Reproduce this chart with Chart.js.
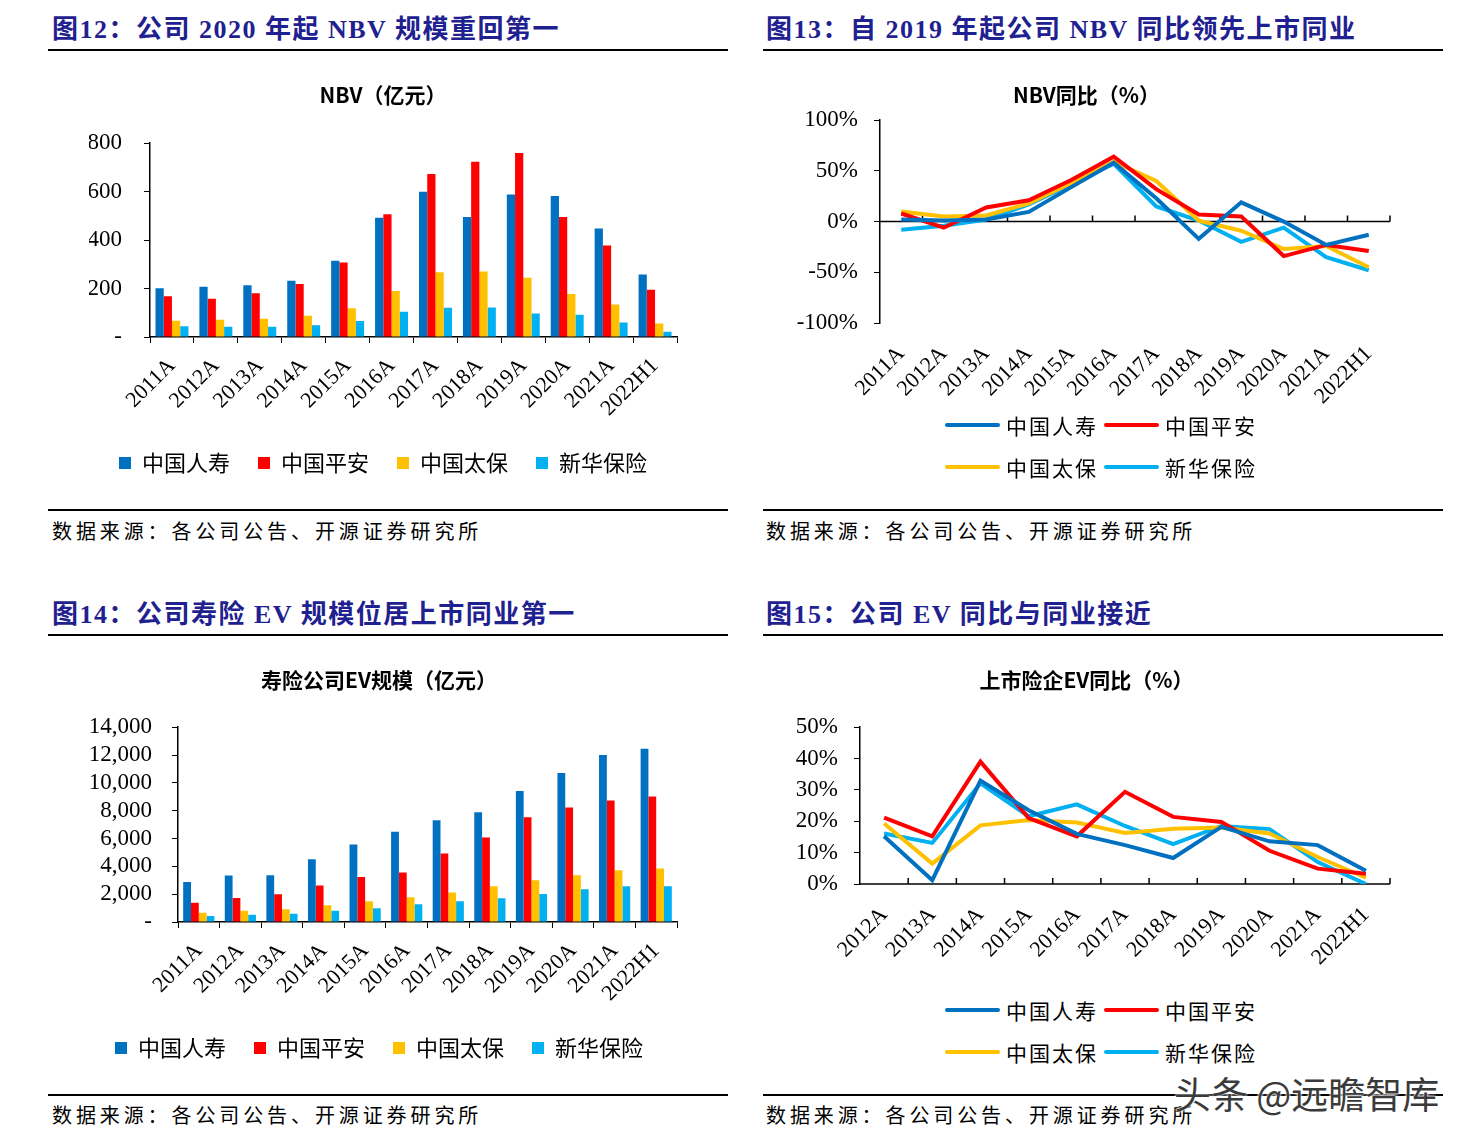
<!DOCTYPE html>
<html>
<head>
<meta charset="utf-8">
<script src="https://cdn.jsdelivr.net/npm/chart.js@4.4.0/dist/chart.umd.min.js"></script>
<style>
body{margin:0;background:#fff;width:1475px;height:1141px;position:relative;overflow:hidden;font-family:"Noto Sans CJK SC",sans-serif;color:#000}
.head{position:absolute;font-family:"Liberation Serif","Noto Sans CJK SC",serif;font-weight:bold;font-size:26px;color:#1f2190;letter-spacing:1.5px;line-height:30px;white-space:nowrap}
.rule{position:absolute;height:2px;background:#000;width:680px}
.src{position:absolute;font-size:20px;letter-spacing:3.9px;line-height:24px;white-space:nowrap}
.box{position:absolute}
.lg{position:absolute;font-size:21px;letter-spacing:2px;line-height:26px;white-space:nowrap}
.lg .row{display:flex;height:42px;align-items:center}
.lg .it{display:flex;align-items:center;width:159px}
.lg .ln{display:inline-block;width:55px;height:4px;border-radius:2px;margin-right:6px}
.wm{position:absolute;left:1174px;top:1066px;font-size:37px;color:#3a3a3a;white-space:nowrap;text-shadow:0 0 3px #fff,0 0 3px #fff}
</style>
</head>
<body>

<div class="head" style="left:52px;top:15px">图12：公司 2020 年起 NBV 规模重回第一</div>
<div class="rule" style="left:48px;top:49px"></div>
<div class="box" style="left:48px;top:64px;width:680px;height:432px"><canvas id="nbv"></canvas></div>
<div class="rule" style="left:48px;top:509px"></div>
<div class="src" style="left:52px;top:519px">数据来源：各公司公告、开源证券研究所</div>

<div class="head" style="left:766px;top:15px">图13：自 2019 年起公司 NBV 同比领先上市同业</div>
<div class="rule" style="left:763px;top:49px"></div>
<div class="box" style="left:763px;top:64px;width:680px;height:349px"><canvas id="nbvYoy"></canvas></div>
<div class="lg" id="lg1" style="left:945px;top:404px"></div>
<div class="rule" style="left:763px;top:509px"></div>
<div class="src" style="left:766px;top:519px">数据来源：各公司公告、开源证券研究所</div>

<div class="head" style="left:52px;top:600px">图14：公司寿险 EV 规模位居上市同业第一</div>
<div class="rule" style="left:48px;top:634px"></div>
<div class="box" style="left:48px;top:650px;width:680px;height:432px"><canvas id="ev"></canvas></div>
<div class="rule" style="left:48px;top:1094px"></div>
<div class="src" style="left:52px;top:1103px">数据来源：各公司公告、开源证券研究所</div>

<div class="head" style="left:766px;top:600px">图15：公司 EV 同比与同业接近</div>
<div class="rule" style="left:763px;top:634px"></div>
<div class="box" style="left:763px;top:650px;width:680px;height:324px"><canvas id="evYoy"></canvas></div>
<div class="lg" id="lg2" style="left:945px;top:989px"></div>
<div class="rule" style="left:763px;top:1094px"></div>
<div class="src" style="left:766px;top:1103px">数据来源：各公司公告、开源证券研究所</div>

<div class="wm">头条 @远瞻智库</div>

<script>
const years = ['2011A','2012A','2013A','2014A','2015A','2016A','2017A','2018A','2019A','2020A','2021A','2022H1'];
const yoyYears = ['2012A','2013A','2014A','2015A','2016A','2017A','2018A','2019A','2020A','2021A','2022H1'];
const companies = ['中国人寿','中国平安','中国太保','新华保险'];
const colors = ['#0070C0','#FF0000','#FFC000','#00B0F0'];

// NBV (亿元)
const nbvLife   = [201,207,214,232,315,492,600,495,588,582,448,258];
const nbvPingan = [168,158,181,219,308,507,673,723,760,495,378,195];
const nbvCpic   = [67,71,75,88,119,190,267,270,245,178,134,56];
const nbvNci    = [44,42,42,49,66,104,121,122,97,92,60,22];

// NBV 同比 (%)
const nbvYoyLife   = [2,1,2,9.5,34,58,23,-17,19,0,-23,-13];
const nbvYoyPingan = [8,-6,14,21,41,64,32,7,5,-34,-23,-29];
const nbvYoyCpic   = [10,5,6,18,38,59,40,1,-9,-27,-24,-45];
const nbvYoyNci    = [-8,-4,2,17,37,57,15,1,-20,-6,-35,-48];

// 寿险 EV (亿元)
const evLife   = [2880,3336,3360,4512,5568,6480,7320,7896,9408,10704,12000,12456];
const evPingan = [1392,1728,1992,2616,3240,3552,4920,6072,7536,8232,8736,9024];
const evCpic   = [672,816,912,1200,1488,1776,2112,2568,3000,3360,3720,3840];
const evNci    = [432,528,600,816,984,1272,1488,1704,2016,2352,2568,2568];

// EV 同比 (%)
const evYoyLife   = [15.2,1.2,33,23.5,16,12.4,8.3,18.2,13.6,12.4,4.2];
const evYoyPingan = [21.2,15.2,39,21,15.2,29.4,21.4,19.8,10.6,4.9,3.3];
const evYoyCpic   = [19.3,6.5,18.7,20.4,19.6,16.3,17.6,18,16.1,8.6,2];
const evYoyNci    = [16.1,13.1,32.1,21.6,25.4,18.5,12.7,18.5,17.5,7,0];

const serif = 'Liberation Serif';
const cjk = 'Noto Sans CJK SC';

// zero line with small upward ticks between categories (line charts)
const zeroAxis = {
  id: 'zeroAxis',
  beforeDatasetsDraw(chart) {
    const {ctx, chartArea, scales} = chart;
    const y0 = scales.y.getPixelForValue(0);
    const n = scales.x.ticks.length;
    ctx.save();
    ctx.strokeStyle = '#000';
    ctx.lineWidth = 1.5;
    ctx.beginPath();
    ctx.moveTo(chartArea.left, y0);
    ctx.lineTo(chartArea.right, y0);
    for (let i = 1; i <= n; i++) {
      const px = chartArea.left + (chartArea.right - chartArea.left) * i / n;
      ctx.moveTo(px, y0);
      ctx.lineTo(px, y0 - 6);
    }
    ctx.stroke();
    ctx.restore();
  }
};

function barChart(id, title, series, yMax, yStep, yWidth, labelPad, layoutPad, titlePad, fmt) {
  return new Chart(document.getElementById(id), {
    type: 'bar',
    data: {
      labels: years,
      datasets: series.map((d, i) => ({
        label: companies[i], data: d, backgroundColor: colors[i], borderWidth: 0,
        categoryPercentage: 0.75, barPercentage: 1.0
      }))
    },
    options: {
      responsive: true,
      maintainAspectRatio: false,
      animation: false,
      layout: { padding: layoutPad },
      plugins: {
        title: { display: true, text: title, color: '#000', font: { family: cjk, size: 21, weight: 'bold' }, padding: titlePad },
        legend: {
          position: 'bottom',
          labels: { boxWidth: 12, boxHeight: 12, color: '#000', font: { family: cjk, size: 22 }, padding: 28 }
        },
        tooltip: { enabled: false }
      },
      scales: {
        x: {
          grid: { drawOnChartArea: false, color: '#000', tickLength: 6 },
          border: { color: '#000', width: 1.5 },
          ticks: { color: '#000', font: { family: serif, size: 22 }, minRotation: 45, maxRotation: 45, autoSkip: false, padding: 10 },
          afterFit: s => { s.height = 87; }
        },
        y: {
          min: 0, max: yMax,
          grid: { drawOnChartArea: false, color: '#000', tickLength: 6 },
          border: { color: '#000', width: 1.5 },
          ticks: { stepSize: yStep, autoSkip: false, color: '#000', font: { family: serif, size: 23 }, padding: labelPad, callback: fmt },
          afterFit: s => { s.width = yWidth; }
        }
      }
    }
  });
}

function lineChart(id, title, labels, series, yMin, yMax, yStep, yWidth, labelPad, layoutPad, titlePad) {
  return new Chart(document.getElementById(id), {
    type: 'line',
    data: {
      labels: labels,
      datasets: series.map((d, i) => ({
        label: companies[i], data: d, borderColor: colors[i], backgroundColor: colors[i],
        borderWidth: 4, pointRadius: 0, tension: 0, fill: false
      }))
    },
    options: {
      responsive: true,
      maintainAspectRatio: false,
      animation: false,
      layout: { padding: layoutPad },
      plugins: {
        title: { display: true, text: title, color: '#000', font: { family: cjk, size: 21, weight: 'bold' }, padding: titlePad },
        legend: { display: false },
        tooltip: { enabled: false }
      },
      scales: {
        x: {
          offset: true,
          grid: { display: false },
          border: { display: false },
          ticks: { color: '#000', font: { family: serif, size: 22 }, minRotation: 45, maxRotation: 45, autoSkip: false, padding: 10 },
          afterFit: s => { s.height = 90; }
        },
        y: {
          min: yMin, max: yMax,
          grid: { drawOnChartArea: false, color: '#000', tickLength: 6 },
          border: { color: '#000', width: 1.5 },
          ticks: { stepSize: yStep, autoSkip: false, color: '#000', font: { family: serif, size: 23 }, padding: labelPad, callback: v => v + '%' },
          afterFit: s => { s.width = yWidth; }
        }
      }
    },
    plugins: [zeroAxis]
  });
}

barChart('nbv', 'NBV（亿元）', [nbvLife, nbvPingan, nbvCpic, nbvNci], 800, 200, 61, 22,
  { left: 41, right: 51, top: 0, bottom: 12 }, { top: 18, bottom: 36 },
  v => v === 0 ? '-' : v);

lineChart('nbvYoy', 'NBV同比（%）', years, [nbvYoyLife, nbvYoyPingan, nbvYoyCpic, nbvYoyNci], -100, 100, 50, 97, 16,
  { left: 20, right: 53, top: 0, bottom: 0 }, { top: 18, bottom: 13 });

barChart('ev', '寿险公司EV规模（亿元）', [evLife, evPingan, evCpic, evNci], 14000, 2000, 97, 20,
  { left: 33, right: 51, top: 0, bottom: 13 }, { top: 17, bottom: 35 },
  v => v === 0 ? '-' : v.toLocaleString('en-US'));

lineChart('evYoy', '上市险企EV同比（%）', yoyYears, [evYoyLife, evYoyPingan, evYoyCpic, evYoyNci], 0, 50, 10, 77, 16,
  { left: 20, right: 53, top: 0, bottom: 0 }, { top: 17, bottom: 35 });

// two-row legends for the line charts
function lineLegend(elId) {
  const el = document.getElementById(elId);
  let html = '';
  for (let r = 0; r < 2; r++) {
    html += '<div class="row">';
    for (let c = 0; c < 2; c++) {
      const i = r * 2 + c;
      html += '<div class="it"><span class="ln" style="background:' + colors[i] + '"></span>' + companies[i] + '</div>';
    }
    html += '</div>';
  }
  el.innerHTML = html;
}
lineLegend('lg1');
lineLegend('lg2');
</script>
</body>
</html>
